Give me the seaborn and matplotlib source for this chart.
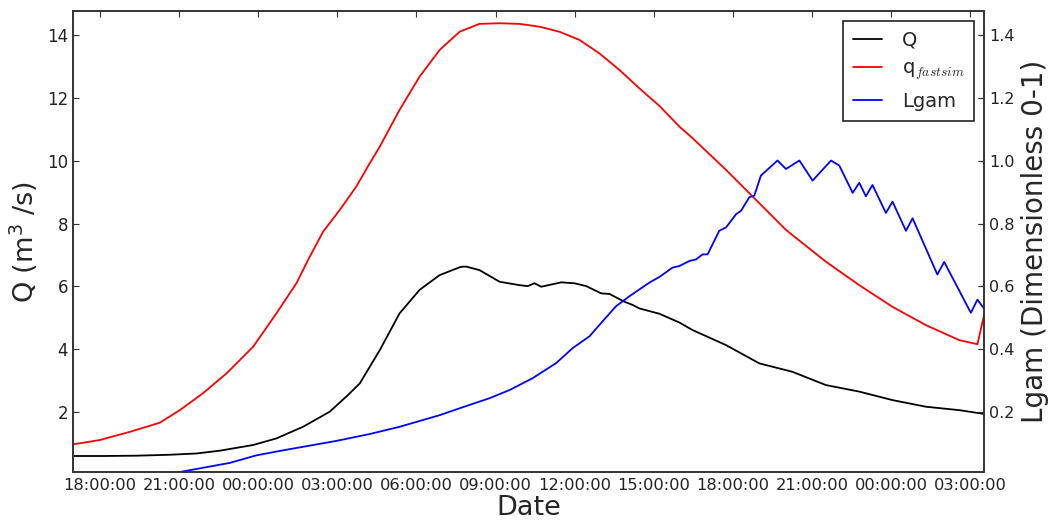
import numpy as np
import pandas as pd
import matplotlib
matplotlib.use("Agg")
import matplotlib.pyplot as plt
import matplotlib.dates as mdates
import seaborn as sns

# ---- data (hours relative to 18:00 of the first day) ----
q_hours = [-1.02, 0.0, 1.14, 2.27, 3.03, 3.91, 4.80, 5.81, 6.69, 7.45, 7.89, 8.46, 9.09,
           9.72, 10.23, 10.61, 11.36, 12.12, 12.88, 13.64, 14.39, 15.15, 15.91, 16.67,
           17.42, 18.18, 18.94, 19.70, 20.45, 21.21, 21.97, 22.47, 23.74, 24.75, 26.01,
           27.52, 28.79, 30.05, 31.31, 32.58, 33.27, 33.52]
q_fastsim = [0.97, 1.11, 1.37, 1.66, 2.06, 2.60, 3.23, 4.08, 5.14, 6.10, 6.84, 7.74, 8.43,
             9.18, 9.92, 10.45, 11.62, 12.68, 13.53, 14.11, 14.36, 14.38, 14.36, 14.27,
             14.11, 13.85, 13.42, 12.89, 12.31, 11.75, 11.09, 10.72, 9.71, 8.86, 7.80,
             6.79, 6.04, 5.35, 4.77, 4.29, 4.16, 5.09]

Q_hours = [-1.02, 0.13, 1.39, 2.65, 3.66, 4.55, 5.81, 6.69, 7.70, 8.71, 9.34, 9.85, 10.23,
           10.61, 11.36, 12.12, 12.88, 13.64, 13.76, 13.89, 14.39, 15.15, 15.28, 15.91,
           16.22, 16.48, 16.73, 17.49, 17.99, 18.44, 19.00, 19.32, 19.89, 20.20, 20.45,
           21.21, 21.97, 22.47, 23.74, 25.00, 26.26, 27.52, 28.79, 30.05, 31.31, 32.58,
           33.52]
Q_obs = [0.60, 0.60, 0.61, 0.64, 0.68, 0.77, 0.95, 1.16, 1.53, 2.01, 2.49, 2.91, 3.44,
         3.97, 5.14, 5.89, 6.36, 6.61, 6.63, 6.63, 6.52, 6.15, 6.13, 6.04,
         6.01, 6.10, 5.99, 6.13, 6.10, 6.01, 5.78, 5.76, 5.51, 5.41, 5.30,
         5.13, 4.85, 4.61, 4.13, 3.55, 3.28, 2.86, 2.65, 2.38, 2.17, 2.06,
         1.94]

L_hours = [-1.02, 2.40, 3.03, 4.92, 5.93, 6.94, 8.96, 10.23, 11.36, 12.88, 13.64, 14.77,
           15.53, 16.41, 17.30, 17.93, 18.56, 19.06, 19.57, 20.08, 20.83, 21.21, 21.71,
           21.97, 22.35, 22.60, 22.85, 23.04, 23.48, 23.74, 24.12, 24.31, 24.62, 24.81,
           25.06, 25.69, 26.01, 26.52, 27.02, 27.72, 28.03, 28.54, 28.79, 29.04, 29.29,
           29.80, 30.05, 30.56, 30.81, 31.75, 32.01, 33.02, 33.27, 33.52]
Lgam = [-0.04, 0.004, 0.009, 0.038, 0.062, 0.078, 0.108, 0.13, 0.153, 0.19, 0.212, 0.244,
        0.27, 0.308, 0.356, 0.404, 0.441, 0.489, 0.537, 0.569, 0.612, 0.63, 0.66,
        0.665, 0.681, 0.686, 0.702, 0.702, 0.777, 0.788, 0.83, 0.841, 0.884, 0.889,
        0.953, 1.001, 0.974, 1.001, 0.937, 1.001, 0.985, 0.898, 0.93, 0.887, 0.923,
        0.834, 0.87, 0.777, 0.817, 0.638, 0.678, 0.516, 0.558, 0.529]

x_tick_format = "%H:%M:%S"
base_time = pd.Timestamp("2013-01-01 18:00:00")


def to_time(hours):
    return base_time + pd.to_timedelta(np.asarray(hours), unit="h")


df_Q = pd.DataFrame({"Date": to_time(Q_hours), "value": Q_obs})
df_q = pd.DataFrame({"Date": to_time(q_hours), "value": q_fastsim})
df_L = pd.DataFrame({"Date": to_time(L_hours), "value": Lgam})

sns.set_style("white")
plt.rcParams["font.family"] = ["DejaVu Sans"]
plt.rcParams["axes.edgecolor"] = "#333333"
plt.rcParams["axes.linewidth"] = 1.2

fig = plt.figure(figsize=(10.52, 5.24), dpi=100)
ax = fig.add_axes([0.0694, 0.0992, 0.866, 0.8798])
ax2 = ax.twinx()

sns.lineplot(data=df_Q, x="Date", y="value", ax=ax, color="black", lw=1.3,
             label="Q", legend=False, sort=False)
sns.lineplot(data=df_q, x="Date", y="value", ax=ax, color="red", lw=1.3,
             label="q$_{fastsim}$", legend=False, sort=False)
sns.lineplot(data=df_L, x="Date", y="value", ax=ax2, color="blue", lw=1.3,
             label="Lgam", legend=False, sort=False)

ax.set_xlim(to_time([-1.02])[0], to_time([33.52])[0])
ax.set_ylim(0.09, 14.77)
ax2.set_ylim(0.009, 1.477)
ax.set_yticks([2, 4, 6, 8, 10, 12, 14])
ax2.set_yticks([0.2, 0.4, 0.6, 0.8, 1.0, 1.2, 1.4])

ax.xaxis.set_major_locator(mdates.HourLocator(byhour=range(0, 24, 3)))
ax.xaxis.set_major_formatter(mdates.DateFormatter(x_tick_format))

ax.tick_params(axis="x", direction="in", length=4, top=True, labelsize=11.7,
               labelcolor="#222222", color="#333333", pad=4)
ax.tick_params(axis="y", direction="in", length=4, right=True, labelsize=12,
               labelcolor="#222222", color="#333333")
ax2.tick_params(axis="y", direction="in", length=4, labelsize=11.5,
                labelcolor="#222222", color="#333333", pad=3.5)

ax.set_xlabel("Date", fontsize=19.5, labelpad=2)
ax.set_ylabel("Q (m$^3$ /s)", fontsize=19.5, labelpad=5)
ax2.set_ylabel("Lgam (Dimensionless 0-1)", fontsize=20, labelpad=5)

for a in (ax, ax2):
    for s in a.spines.values():
        s.set_visible(True)
        s.set_color("#333333")

handles = ax.get_lines()[:2] + ax2.get_lines()[:1]
labels = [h.get_label() for h in handles]
leg = ax2.legend(handles, labels, loc="upper right", fontsize=14, frameon=True,
                 fancybox=False, framealpha=1, edgecolor="#222222",
                 handlelength=1.5, handletextpad=1.0, borderpad=0.5,
                 borderaxespad=0.5)
leg.get_frame().set_linewidth(1.2)
for t in leg.get_texts():
    t.set_math_fontfamily("cm")

fig.savefig("out.png", dpi=100)
